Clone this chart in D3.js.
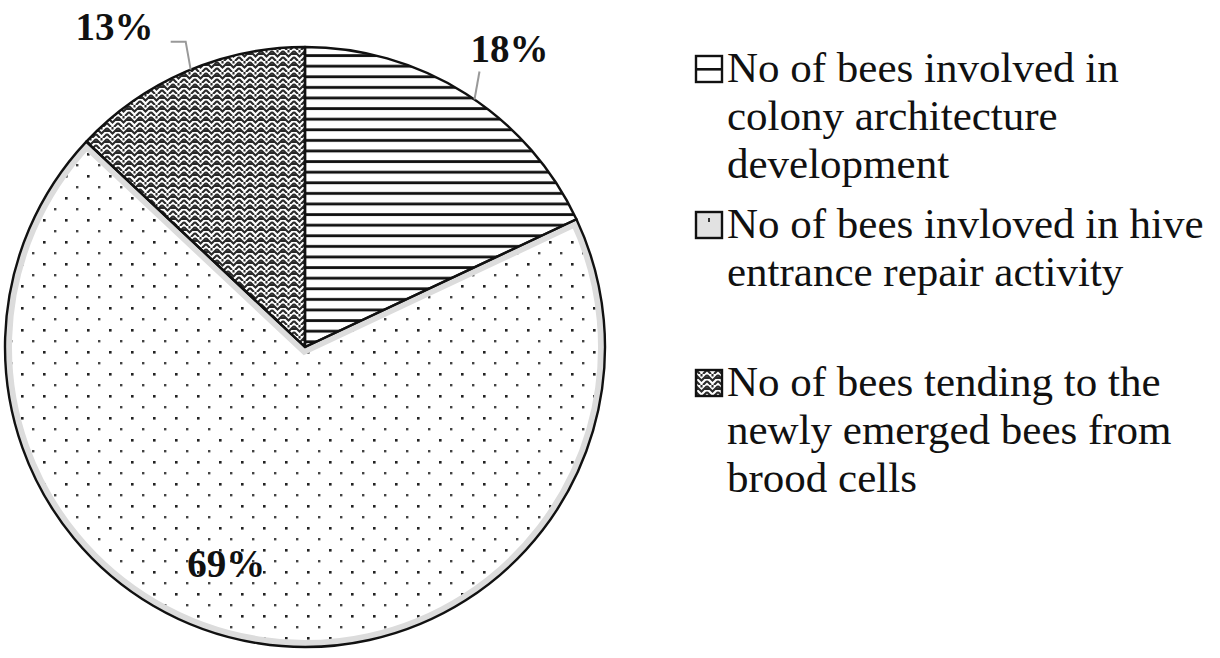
<!DOCTYPE html>
<html>
<head>
<meta charset="utf-8">
<script src="https://cdn.jsdelivr.net/npm/d3@7"></script>
<style>
  body { margin: 0; background: #fff; }
  svg { display: block; }
  text { font-family: "Liberation Serif", "Times New Roman", serif; fill: #111; }
</style>
</head>
<body>
<svg id="chart" width="1220" height="658"></svg>
<script>
// #region Data
const categories = [
  "No of bees involved in colony architecture development",
  "No of bees invloved in hive entrance repair activity",
  "No of bees tending to the newly emerged bees from brood cells",
];
const legendLines = [
  ["No of bees involved in", "colony architecture", "development"],
  ["No of bees invloved in hive", "entrance repair activity"],
  ["No of bees tending to the", "newly emerged bees from", "brood cells"],
];
const values = [18, 69, 13];
const valueLabels = ["18%", "69%", "13%"];
// #endregion

const svg = d3.select("#chart");
const width = +svg.attr("width");
const height = +svg.attr("height");
const cx = 305;
const cy = 347;
const radius = 300;

svg.append("rect").attr("width", width).attr("height", height).attr("fill", "#fff");

// #region Patterns
const defs = svg.append("defs");

const hatch = defs.append("pattern")
  .attr("id", "hatch")
  .attr("patternUnits", "userSpaceOnUse")
  .attr("width", 20)
  .attr("height", 10.6);
hatch.append("rect").attr("width", 20).attr("height", 10.6).attr("fill", "#fff");
hatch.append("rect").attr("y", 4).attr("width", 20).attr("height", 2.8).attr("fill", "#111");

const dots = defs.append("pattern")
  .attr("id", "dots")
  .attr("patternUnits", "userSpaceOnUse")
  .attr("x", 2)
  .attr("y", 4)
  .attr("width", 22)
  .attr("height", 22);
dots.append("rect").attr("width", 22).attr("height", 22).attr("fill", "#fff");
dots.append("rect").attr("x", 0).attr("y", 0).attr("width", 2.6).attr("height", 2.6).attr("fill", "#222");
dots.append("rect").attr("x", 11).attr("y", 11).attr("width", 2.4).attr("height", 2.4).attr("fill", "#444");

const zig = defs.append("pattern")
  .attr("id", "zig")
  .attr("patternUnits", "userSpaceOnUse")
  .attr("width", 11)
  .attr("height", 11);
zig.append("rect").attr("width", 11).attr("height", 11).attr("fill", "#fff");
zig.append("path")
  .attr("d", "M0,1 L5.5,6.5 L11,1 M0,7 L4,11 M11,7 L7,11 M5.5,0 L5.5,2.5 M0,4 L2,4 M9,4 L11,4")
  .attr("fill", "none")
  .attr("stroke", "#2a2a2a")
  .attr("stroke-width", 2.1);

// legend key fills
const hatchKey = defs.append("pattern")
  .attr("id", "hatchKey")
  .attr("patternUnits", "userSpaceOnUse")
  .attr("width", 26)
  .attr("height", 26);
hatchKey.append("rect").attr("width", 26).attr("height", 26).attr("fill", "#fff");
hatchKey.append("rect").attr("y", 12).attr("width", 26).attr("height", 2.6).attr("fill", "#111");

const dotKey = defs.append("pattern")
  .attr("id", "dotKey")
  .attr("patternUnits", "userSpaceOnUse")
  .attr("width", 26)
  .attr("height", 26);
dotKey.append("rect").attr("width", 26).attr("height", 26).attr("fill", "#e2e2e2");
dotKey.append("rect").attr("x", 12).attr("y", 6).attr("width", 2).attr("height", 4).attr("fill", "#333");
// #endregion

const fills = ["url(#hatch)", "url(#dots)", "url(#zig)"];
const keyFills = ["url(#hatchKey)", "url(#dotKey)", "url(#zig)"];

const pie = d3.pie().sort(null).value((d) => d);
const arcs = pie(values);
const arc = d3.arc().innerRadius(0).outerRadius(radius);

const g = svg.append("g").attr("transform", `translate(${cx},${cy})`);

// clip paths so the light grey rim stays inside the dotted slice
arcs.forEach((d, i) => {
  defs.append("clipPath").attr("id", `clip${i}`).append("path").attr("d", arc(d));
});

g.selectAll("path.slice")
  .data(arcs)
  .enter()
  .append("path")
  .attr("class", "slice")
  .attr("d", arc)
  .attr("fill", (d, i) => fills[i]);

// grey rim inside the big dotted slice
g.append("path")
  .attr("d", arc(arcs[1]))
  .attr("clip-path", "url(#clip1)")
  .attr("fill", "none")
  .attr("stroke", "#dcdcdc")
  .attr("stroke-width", 14);

g.selectAll("path.outline")
  .data(arcs)
  .enter()
  .append("path")
  .attr("class", "outline")
  .attr("d", arc)
  .attr("fill", "none")
  .attr("stroke", "#111")
  .attr("stroke-width", 2.4)
  .attr("stroke-linejoin", "round");

// #region Data labels
const deg = Math.PI / 180;
const polar = (a, r) => [Math.sin(a) * r, -Math.cos(a) * r];
// label angle offsets / radii as placed by the original chart
const labelPlace = [
  { da: 2 * deg, r: 362 },
  { da: 11 * deg, r: 230 },
  { da: -7.3 * deg, r: 373 },
];

arcs.forEach((d, i) => {
  const mid = (d.startAngle + d.endAngle) / 2;
  const p = labelPlace[i];
  const [lx, ly] = polar(mid + p.da, p.r);
  g.append("text")
    .attr("x", lx)
    .attr("y", ly)
    .attr("dy", "0.35em")
    .attr("text-anchor", "middle")
    .attr("font-size", 39)
    .attr("font-weight", "bold")
    .text(valueLabels[i]);
});

// leader lines
{
  const a0 = (arcs[0].startAngle + arcs[0].endAngle) / 2;
  const [ex, ey] = polar(a0 + 2 * deg, radius);
  g.append("path")
    .attr("d", `M${ex},${ey} L${ex + 5},${ey - 28}`)
    .attr("stroke", "#999")
    .attr("stroke-width", 2)
    .attr("fill", "none");

  const a2 = (arcs[2].startAngle + arcs[2].endAngle) / 2;
  const [fx, fy] = polar(a2 + 1 * deg, radius);
  g.append("path")
    .attr("d", `M${fx},${fy} L${fx - 5},${fy - 28} L${fx - 20},${fy - 28}`)
    .attr("stroke", "#999")
    .attr("stroke-width", 2)
    .attr("fill", "none");
}
// #endregion

// #region Legend
const legendX = 696;
const lineH = 48;
const itemTop = [82, 238, 396];
const legend = svg.append("g");

legendLines.forEach((lines, i) => {
  const item = legend.append("g").attr("transform", `translate(${legendX},${itemTop[i]})`);
  item.append("rect")
    .attr("x", 0)
    .attr("y", -26)
    .attr("width", 26)
    .attr("height", 26)
    .attr("fill", keyFills[i])
    .attr("stroke", "#111")
    .attr("stroke-width", 2.4);
  item.append("text")
    .attr("font-size", 43)
    .selectAll("tspan")
    .data(lines)
    .enter()
    .append("tspan")
    .attr("x", 31)
    .attr("y", (l, j) => j * lineH)
    .text((l) => l);
});
// #endregion
</script>
</body>
</html>
